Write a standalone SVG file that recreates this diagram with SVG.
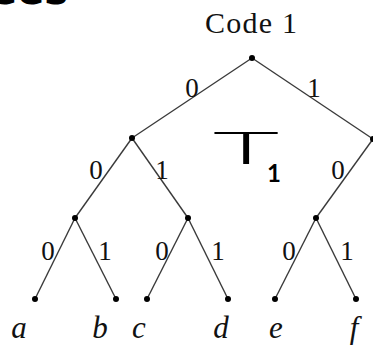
<svg xmlns="http://www.w3.org/2000/svg" width="373" height="346" viewBox="0 0 373 346">
<style>
.e{stroke:#3a3a3a;stroke-width:1.4;fill:none}
.n{fill:#000}
.t{font-family:"Liberation Serif",serif;fill:#111}
.d{font-size:27px;text-anchor:middle}
.l{font-size:31px;font-style:italic;text-anchor:middle}
.h{font-family:"DejaVu Sans",sans-serif;fill:#000}
.hw{font-family:Lato,"DejaVu Sans",sans-serif;fill:#000}
</style>
<rect width="373" height="346" fill="#fff"/>
<text class="h" x="-10" y="4" font-size="40" font-weight="bold">ees</text>
<text class="t" x="251" y="33" font-size="30" text-anchor="middle" textLength="92">Code 1</text>
<g id="connectors">
<line class="e" x1="252" y1="58" x2="132" y2="138"/>
<line class="e" x1="252" y1="58" x2="373" y2="139"/>
<line class="e" x1="132" y1="138" x2="75" y2="218"/>
<line class="e" x1="132" y1="138" x2="188" y2="218"/>
<line class="e" x1="373" y1="139" x2="316" y2="218"/>
<line class="e" x1="75" y1="218" x2="35" y2="299"/>
<line class="e" x1="75" y1="218" x2="116" y2="299"/>
<line class="e" x1="188" y1="218" x2="147" y2="299"/>
<line class="e" x1="188" y1="218" x2="228" y2="299"/>
<line class="e" x1="316" y1="218" x2="275" y2="299"/>
<line class="e" x1="316" y1="218" x2="356" y2="299"/>
</g>
<g id="edge-labels" class="t d">
<text x="192" y="97">0</text>
<text x="314" y="97">1</text>
<text x="96" y="179">0</text>
<text x="162" y="179">1</text>
<text x="338" y="179">0</text>
<text x="48" y="260">0</text>
<text x="105" y="260">1</text>
<text x="162" y="260">0</text>
<text x="218" y="260">1</text>
<text x="289" y="260">0</text>
<text x="347" y="260">1</text>
</g>
<g id="root"><circle class="n" cx="252" cy="58" r="3"/></g>
<g id="n0"><circle class="n" cx="132" cy="138" r="3"/></g>
<g id="n1"><circle class="n" cx="373" cy="139" r="3"/></g>
<g id="n00"><circle class="n" cx="75" cy="218" r="3"/></g>
<g id="n01"><circle class="n" cx="188" cy="218" r="3"/></g>
<g id="n10"><circle class="n" cx="316" cy="218" r="3"/></g>
<g id="leaf-a"><circle class="n" cx="35" cy="299" r="3"/><text class="t l" x="19" y="338">a</text></g>
<g id="leaf-b"><circle class="n" cx="116" cy="299" r="3"/><text class="t l" x="100" y="338">b</text></g>
<g id="leaf-c"><circle class="n" cx="147" cy="299" r="3"/><text class="t l" x="139" y="338">c</text></g>
<g id="leaf-d"><circle class="n" cx="228" cy="299" r="3"/><text class="t l" x="221" y="338">d</text></g>
<g id="leaf-e"><circle class="n" cx="275" cy="299" r="3"/><text class="t l" x="276" y="338">e</text></g>
<g id="leaf-f"><circle class="n" cx="356" cy="299" r="3"/><text class="t l" x="354" y="338">f</text></g>
<g id="annotation">
<text class="hw" x="246" y="164" font-size="46" font-weight="300" text-anchor="middle" transform="translate(246 0) scale(2.5 1) translate(-246 0)">T</text>
<text class="hw" x="274" y="182" font-size="24" font-weight="700" text-anchor="middle">1</text>
</g>
</svg>
